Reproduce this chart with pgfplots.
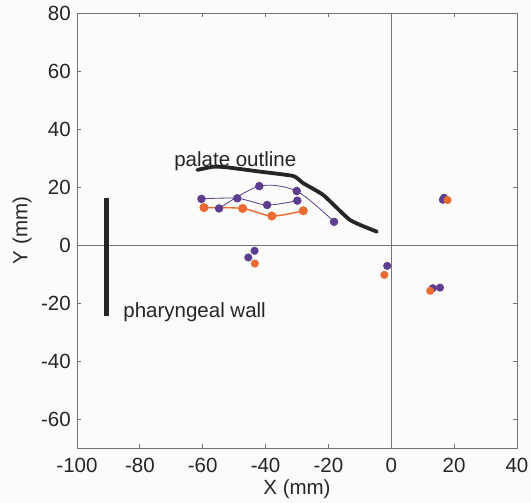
\documentclass[border=0pt]{standalone}
\usepackage{fontspec}
\setmainfont{Liberation Sans}
\usepackage{pgfplots}
\pgfplotsset{compat=1.18}

\definecolor{tongueA}{HTML}{5C3D8F}
\definecolor{tongueB}{HTML}{EC6A33}
\definecolor{frame}{HTML}{737373}
\definecolor{txt}{HTML}{262626}
\definecolor{bg}{HTML}{FBFBF9}

\newcommand{\lblfont}{\fontsize{20.5}{24}\selectfont}

\begin{document}
\begin{tikzpicture}
% page background
\fill[bg] (-77pt,-55pt) rectangle (454pt,448pt);
\begin{axis}[
  at={(0,0)}, anchor=south west,
  scale only axis,
  width=440pt, height=435pt,
  xmin=-100, xmax=40, ymin=-70, ymax=80,
  xtick={-100,-80,...,40},
  ytick={-60,-40,...,80},
  tick align=inside,
  major tick length=4pt,
  axis line style={frame, line width=0.8pt},
  every tick/.style={frame, line width=0.8pt},
  /pgf/number format/assume math mode=true,
  tick label style={font=\lblfont, text=txt},
  xticklabel style={anchor=base, yshift=-25pt},
  yticklabel style={anchor=east, inner sep=0pt, xshift=-6pt},
  label style={font=\lblfont, text=txt},
  xlabel={X (mm)},
  ylabel={Y (mm)},
  xlabel style={at={(axis description cs:0.5,0)}, anchor=base, yshift=-47pt},
  ylabel style={at={(axis description cs:-0.125,0.5)}, anchor=center, rotate=0},
  clip=false,
]
% zero reference lines
\addplot[frame, line width=0.7pt] coordinates {(0,-70) (0,80)};
\addplot[frame, line width=0.7pt] coordinates {(-100,0) (40,0)};

% palate outline
\addplot[color=txt, line width=3.8pt, smooth, tension=0.3, line join=round, line cap=round] coordinates {
  (-61.7,25.9) (-56.6,27.0) (-52.4,26.8) (-41.8,25.3) (-31.2,23.8)
  (-28.0,21.3) (-21.6,17.2) (-13.1,8.6) (-4.6,4.6)
};
% pharyngeal wall
\addplot[color=txt, line width=4.5pt] coordinates {(-90.6,16.1) (-90.6,-24.5)};

\node[anchor=base west, font=\lblfont, text=txt, inner sep=0pt]
  at (axis cs:-69.1,27.0) {palate outline};
\node[anchor=base west, font=\lblfont, text=txt, inner sep=0pt]
  at (axis cs:-85.3,-24.9) {pharyngeal wall};

% tongue traces
\addplot[tongueA, line width=0.8pt, smooth, mark=*, mark size=3.8pt,
  mark options={solid, fill=tongueA, draw=tongueA}] coordinates {
  (-60.4,15.9) (-49.0,16.1) (-39.5,13.8) (-29.9,15.3)
};
\addplot[tongueA, line width=0.8pt, smooth, mark=*, mark size=3.8pt,
  mark options={solid, fill=tongueA, draw=tongueA}] coordinates {
  (-54.8,12.6) (-42.0,20.3) (-30.1,18.6) (-18.2,8.0)
};
\addplot[only marks, mark=*, mark size=3.8pt, mark options={fill=tongueA, draw=tongueA}] coordinates {
  (-43.5,-2.0) (-45.5,-4.3) (16.8,16.3) (16.4,15.6) (-1.3,-7.2) (15.5,-14.7) (13.2,-14.9)
};
\addplot[tongueB, line width=1.4pt, smooth, mark=*, mark size=3.8pt,
  mark options={solid, fill=tongueB, draw=tongueB}] coordinates {
  (-59.6,12.9) (-47.3,12.6) (-38.0,10.0) (-28.0,11.8)
};
\addplot[only marks, mark=*, mark size=3.8pt, mark options={fill=tongueB, draw=tongueB}] coordinates {
  (-43.4,-6.4) (17.9,15.5) (-2.2,-10.3) (12.4,-15.8)
};
\end{axis}
\pgfresetboundingbox
\useasboundingbox (-77pt,-55pt) rectangle (454pt,448pt);
\end{tikzpicture}
\end{document}
